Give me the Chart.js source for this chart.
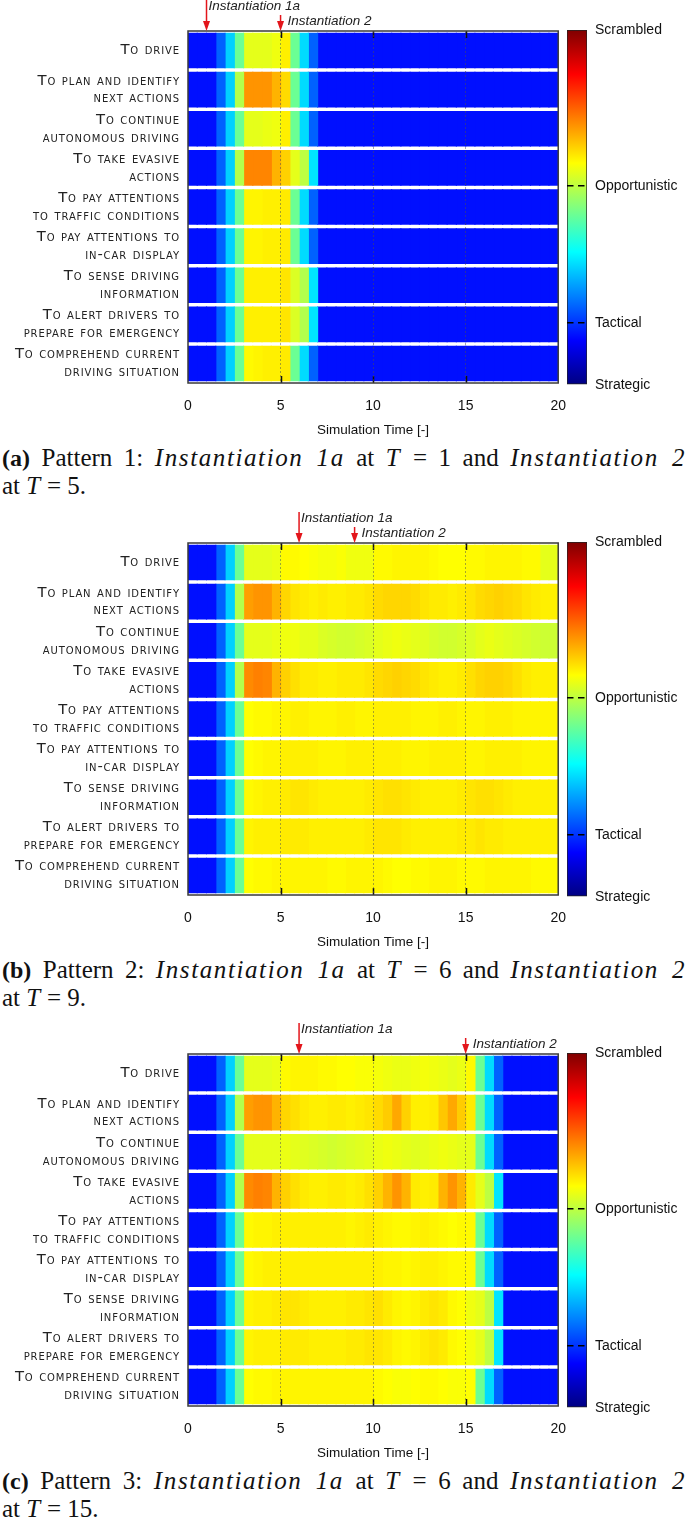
<!DOCTYPE html>
<html><head><meta charset="utf-8">
<script src="https://cdn.jsdelivr.net/npm/chart.js@4.4.1/dist/chart.umd.min.js"></script>
<style>
html,body{margin:0;padding:0;background:#fff;width:685px;height:1524px;overflow:hidden;}
.panel{position:absolute;left:0;width:685px;height:510px;}
.hm{position:absolute;left:0;top:0;width:581px;height:440px;}
.cb{position:absolute;left:540px;top:0;width:145px;height:440px;}
.cap{position:absolute;left:2px;top:444px;font-family:"Liberation Serif",serif;font-size:25px;line-height:27px;color:#111;}
.cap .l1{width:684px;white-space:nowrap;text-align:justify;text-align-last:justify;}
.cap .l2{white-space:nowrap;}
.cap i{letter-spacing:1.6px;}
.cap .l2 i{letter-spacing:0.5px;}
.cap b{font-size:24px;}
</style></head><body>
<div class="panel" style="top:0px">
  <div class="cb"><canvas id="cbA"></canvas></div>
  <div class="hm"><canvas id="hmA"></canvas></div>
  <div class="cap"><div class="l1"><b>(a)</b> Pattern 1: <i>Instantiation 1a</i> at <i>T</i> = 1 and <i>Instantiation 2</i></div><div class="l2">at <i>T</i> = 5.</div></div>
</div>
<div class="panel" style="top:512px">
  <div class="cb"><canvas id="cbB"></canvas></div>
  <div class="hm"><canvas id="hmB"></canvas></div>
  <div class="cap"><div class="l1"><b>(b)</b> Pattern 2: <i>Instantiation 1a</i> at <i>T</i> = 6 and <i>Instantiation 2</i></div><div class="l2">at <i>T</i> = 9.</div></div>
</div>
<div class="panel" style="top:1023px">
  <div class="cb"><canvas id="cbC"></canvas></div>
  <div class="hm"><canvas id="hmC"></canvas></div>
  <div class="cap"><div class="l1"><b>(c)</b> Pattern 3: <i>Instantiation 1a</i> at <i>T</i> = 6 and <i>Instantiation 2</i></div><div class="l2">at <i>T</i> = 15.</div></div>
</div>
<script>
// ---------------- DATA ----------------
const rowLabels = [
  ["To drive"],
  ["To plan and identify", "next actions"],
  ["To continue", "autonomous driving"],
  ["To take evasive", "actions"],
  ["To pay attentions", "to traffic conditions"],
  ["To pay attentions to", "in-car display"],
  ["To sense driving", "information"],
  ["To alert drivers to", "prepare for emergency"],
  ["To comprehend current", "driving situation"]
];
const binWidth = 0.5;
const timeBins = [0,0.5,1,1.5,2,2.5,3,3.5,4,4.5, 5,5.5,6,6.5,7,7.5,8,8.5,9,9.5,
                  10,10.5,11,11.5,12,12.5,13,13.5,14,14.5, 15,15.5,16,16.5,17,17.5,18,18.5,19,19.5];
const xTicks = [0, 5, 10, 15, 20];
const axisTitle = "Simulation Time [-]";
const colorbarLevels = [0, 0.175, 0.56, 1];
const colorbarLabels = ["Strategic", "Tactical", "Opportunistic", "Scrambled"];
const instantNames = ["Instantiation 1a", "Instantiation 2"];
const instantA = [1, 5];
const instantB = [6, 9];
const instantC = [6, 15];

// control-mode level per row (0 = Strategic ... 1 = Scrambled), 40 bins of 0.5
const patternA = [
  [0.14,0.14,0.14,0.22,0.33,0.48,0.60,0.60,0.60,0.61, 0.64,0.48,0.34,0.22,0.14,0.14,0.14,0.14,0.14,0.14,
   0.14,0.14,0.14,0.14,0.14,0.14,0.14,0.14,0.14,0.14, 0.14,0.14,0.14,0.14,0.14,0.14,0.14,0.14,0.14,0.14],
  [0.14,0.14,0.14,0.22,0.33,0.55,0.73,0.73,0.73,0.70, 0.66,0.48,0.34,0.22,0.14,0.14,0.14,0.14,0.14,0.14,
   0.14,0.14,0.14,0.14,0.14,0.14,0.14,0.14,0.14,0.14, 0.14,0.14,0.14,0.14,0.14,0.14,0.14,0.14,0.14,0.14],
  [0.14,0.14,0.14,0.22,0.33,0.48,0.60,0.60,0.605,0.61, 0.64,0.48,0.34,0.22,0.14,0.14,0.14,0.14,0.14,0.14,
   0.14,0.14,0.14,0.14,0.14,0.14,0.14,0.14,0.14,0.14, 0.14,0.14,0.14,0.14,0.14,0.14,0.14,0.14,0.14,0.14],
  [0.14,0.14,0.14,0.22,0.33,0.55,0.745,0.745,0.745,0.70, 0.67,0.60,0.56,0.35,0.14,0.14,0.14,0.14,0.14,0.14,
   0.14,0.14,0.14,0.14,0.14,0.14,0.14,0.14,0.14,0.14, 0.14,0.14,0.14,0.14,0.14,0.14,0.14,0.14,0.14,0.14],
  [0.14,0.14,0.14,0.22,0.33,0.48,0.635,0.635,0.64,0.64, 0.645,0.48,0.34,0.22,0.14,0.14,0.14,0.14,0.14,0.14,
   0.14,0.14,0.14,0.14,0.14,0.14,0.14,0.14,0.14,0.14, 0.14,0.14,0.14,0.14,0.14,0.14,0.14,0.14,0.14,0.14],
  [0.14,0.14,0.14,0.22,0.33,0.48,0.635,0.635,0.64,0.64, 0.645,0.48,0.34,0.22,0.14,0.14,0.14,0.14,0.14,0.14,
   0.14,0.14,0.14,0.14,0.14,0.14,0.14,0.14,0.14,0.14, 0.14,0.14,0.14,0.14,0.14,0.14,0.14,0.14,0.14,0.14],
  [0.14,0.14,0.14,0.22,0.33,0.48,0.64,0.64,0.64,0.64, 0.65,0.59,0.55,0.35,0.14,0.14,0.14,0.14,0.14,0.14,
   0.14,0.14,0.14,0.14,0.14,0.14,0.14,0.14,0.14,0.14, 0.14,0.14,0.14,0.14,0.14,0.14,0.14,0.14,0.14,0.14],
  [0.14,0.14,0.14,0.22,0.33,0.48,0.64,0.64,0.64,0.64, 0.65,0.59,0.55,0.35,0.14,0.14,0.14,0.14,0.14,0.14,
   0.14,0.14,0.14,0.14,0.14,0.14,0.14,0.14,0.14,0.14, 0.14,0.14,0.14,0.14,0.14,0.14,0.14,0.14,0.14,0.14],
  [0.14,0.14,0.14,0.22,0.33,0.48,0.63,0.635,0.64,0.64, 0.645,0.48,0.34,0.22,0.14,0.14,0.14,0.14,0.14,0.14,
   0.14,0.14,0.14,0.14,0.14,0.14,0.14,0.14,0.14,0.14, 0.14,0.14,0.14,0.14,0.14,0.14,0.14,0.14,0.14,0.14]
];

const patternB = [
  [0.14,0.14,0.14,0.22,0.33,0.48,0.60,0.60,0.60,0.605, 0.63,0.63,0.625,0.62,0.615,0.615,0.62,0.61,0.61,0.61,
   0.63,0.63,0.635,0.635,0.635,0.635,0.63,0.625,0.625,0.625, 0.63,0.63,0.635,0.635,0.635,0.635,0.63,0.63,0.60,0.60],
  [0.14,0.14,0.14,0.22,0.33,0.55,0.72,0.73,0.73,0.70, 0.665,0.65,0.645,0.64,0.645,0.64,0.64,0.645,0.645,0.65,
   0.66,0.665,0.665,0.665,0.66,0.65,0.645,0.645,0.64,0.645, 0.65,0.66,0.665,0.67,0.665,0.66,0.65,0.645,0.64,0.64],
  [0.14,0.14,0.14,0.22,0.33,0.48,0.60,0.60,0.60,0.605, 0.61,0.61,0.60,0.60,0.59,0.585,0.58,0.58,0.585,0.59,
   0.60,0.605,0.61,0.605,0.60,0.595,0.585,0.58,0.58,0.585, 0.59,0.60,0.605,0.60,0.595,0.59,0.585,0.58,0.575,0.575],
  [0.14,0.14,0.14,0.22,0.33,0.55,0.74,0.75,0.745,0.70, 0.67,0.655,0.645,0.645,0.64,0.64,0.645,0.645,0.645,0.65,
   0.66,0.665,0.67,0.665,0.66,0.65,0.645,0.64,0.64,0.645, 0.655,0.665,0.67,0.67,0.665,0.655,0.645,0.64,0.64,0.64],
  [0.14,0.14,0.14,0.22,0.33,0.48,0.625,0.63,0.63,0.635, 0.635,0.64,0.64,0.635,0.635,0.635,0.64,0.64,0.635,0.635,
   0.64,0.64,0.64,0.64,0.635,0.635,0.635,0.64,0.64,0.635, 0.635,0.635,0.64,0.64,0.64,0.635,0.635,0.635,0.635,0.635],
  [0.14,0.14,0.14,0.22,0.33,0.48,0.625,0.63,0.635,0.635, 0.64,0.64,0.64,0.64,0.635,0.635,0.635,0.64,0.64,0.64,
   0.64,0.64,0.64,0.635,0.635,0.635,0.64,0.64,0.64,0.64, 0.635,0.635,0.64,0.64,0.64,0.64,0.635,0.635,0.635,0.635],
  [0.14,0.14,0.14,0.22,0.33,0.48,0.63,0.635,0.64,0.64, 0.645,0.65,0.65,0.645,0.64,0.64,0.64,0.64,0.64,0.645,
   0.65,0.655,0.655,0.65,0.645,0.64,0.64,0.64,0.64,0.645, 0.65,0.655,0.655,0.65,0.645,0.64,0.64,0.64,0.64,0.64],
  [0.14,0.14,0.14,0.22,0.33,0.48,0.635,0.64,0.64,0.64, 0.645,0.645,0.645,0.64,0.64,0.64,0.64,0.64,0.64,0.645,
   0.65,0.65,0.65,0.645,0.64,0.64,0.64,0.64,0.64,0.645, 0.645,0.65,0.645,0.645,0.64,0.64,0.64,0.64,0.64,0.64],
  [0.14,0.14,0.14,0.22,0.33,0.48,0.625,0.63,0.63,0.635, 0.635,0.635,0.635,0.635,0.635,0.63,0.63,0.635,0.635,0.635,
   0.635,0.63,0.625,0.625,0.63,0.63,0.635,0.635,0.635,0.63, 0.63,0.63,0.635,0.635,0.635,0.635,0.635,0.63,0.63,0.63]
];

const patternC = [
  [0.14,0.14,0.14,0.22,0.33,0.48,0.60,0.60,0.60,0.605, 0.63,0.635,0.635,0.635,0.63,0.63,0.625,0.625,0.62,0.62,
   0.615,0.61,0.605,0.605,0.61,0.615,0.61,0.605,0.60,0.605, 0.63,0.48,0.34,0.22,0.14,0.14,0.14,0.14,0.14,0.14],
  [0.14,0.14,0.14,0.22,0.33,0.55,0.72,0.73,0.73,0.70, 0.665,0.655,0.645,0.64,0.64,0.645,0.645,0.64,0.645,0.65,
   0.66,0.675,0.71,0.67,0.64,0.64,0.645,0.68,0.71,0.675, 0.645,0.48,0.34,0.22,0.14,0.14,0.14,0.14,0.14,0.14],
  [0.14,0.14,0.14,0.22,0.33,0.48,0.60,0.60,0.60,0.60, 0.605,0.60,0.595,0.59,0.585,0.58,0.585,0.59,0.595,0.60,
   0.605,0.61,0.605,0.60,0.595,0.60,0.605,0.61,0.605,0.60, 0.60,0.48,0.34,0.22,0.14,0.14,0.14,0.14,0.14,0.14],
  [0.14,0.14,0.14,0.22,0.33,0.55,0.74,0.75,0.745,0.70, 0.67,0.655,0.645,0.64,0.64,0.645,0.645,0.64,0.645,0.655,
   0.67,0.70,0.73,0.70,0.645,0.64,0.645,0.70,0.73,0.70, 0.645,0.60,0.56,0.35,0.14,0.14,0.14,0.14,0.14,0.14],
  [0.14,0.14,0.14,0.22,0.33,0.48,0.63,0.635,0.635,0.64, 0.64,0.64,0.64,0.64,0.64,0.64,0.64,0.635,0.64,0.645,
   0.64,0.635,0.63,0.63,0.635,0.64,0.635,0.63,0.625,0.63, 0.63,0.48,0.34,0.22,0.14,0.14,0.14,0.14,0.14,0.14],
  [0.14,0.14,0.14,0.22,0.33,0.48,0.63,0.635,0.64,0.64, 0.64,0.64,0.64,0.64,0.64,0.64,0.64,0.64,0.64,0.64,
   0.64,0.635,0.635,0.63,0.635,0.64,0.64,0.635,0.63,0.63, 0.63,0.48,0.34,0.22,0.14,0.14,0.14,0.14,0.14,0.14],
  [0.14,0.14,0.14,0.22,0.33,0.48,0.635,0.64,0.64,0.645, 0.65,0.65,0.645,0.64,0.64,0.64,0.64,0.645,0.645,0.65,
   0.655,0.645,0.635,0.63,0.635,0.645,0.65,0.645,0.63,0.625, 0.61,0.60,0.56,0.35,0.14,0.14,0.14,0.14,0.14,0.14],
  [0.14,0.14,0.14,0.22,0.33,0.48,0.635,0.64,0.64,0.64, 0.645,0.645,0.645,0.64,0.64,0.64,0.64,0.645,0.645,0.65,
   0.65,0.645,0.635,0.63,0.635,0.645,0.65,0.645,0.63,0.625, 0.615,0.60,0.56,0.35,0.14,0.14,0.14,0.14,0.14,0.14],
  [0.14,0.14,0.14,0.22,0.33,0.48,0.625,0.63,0.63,0.635, 0.635,0.635,0.635,0.635,0.635,0.635,0.635,0.635,0.635,0.635,
   0.63,0.625,0.62,0.62,0.625,0.63,0.63,0.625,0.62,0.62, 0.625,0.48,0.34,0.22,0.14,0.14,0.14,0.14,0.14,0.14]
];

// ---------------- STYLE / RENDER ----------------
function jet(v) {
  const c = x => Math.max(0, Math.min(1, x));
  const r = c(1.5 - Math.abs(4 * v - 3));
  const g = c(1.5 - Math.abs(4 * v - 2));
  const b = c(1.5 - Math.abs(4 * v - 1));
  return `rgb(${Math.round(r * 255)},${Math.round(g * 255)},${Math.round(b * 255)})`;
}

const sansFont = "'Liberation Sans', Arial, sans-serif";

// wider tracking for the small-caps row labels only (drawn before datasets)
const labelSpacing = {
  id: 'labelSpacing',
  beforeDraw(chart) { chart.ctx.letterSpacing = '0.9px'; },
  beforeDatasetsDraw(chart) { chart.ctx.letterSpacing = '0px'; }
};

const heatDeco = {
  id: 'heatDeco',
  afterDatasetsDraw(chart, args, opts) {
    const { ctx, chartArea: a, scales: { x } } = chart;
    ctx.save();
    ctx.letterSpacing = '0px';
    // inner tick marks
    ctx.strokeStyle = '#111';
    ctx.lineWidth = 1.5;
    xTicks.slice(1, -1).forEach(t => {
      const px = Math.round(x.getPixelForValue(t)) + 0.5;
      ctx.beginPath();
      ctx.moveTo(px, a.top); ctx.lineTo(px, a.top + 7);
      ctx.moveTo(px, a.bottom); ctx.lineTo(px, a.bottom - 7);
      ctx.stroke();
    });
    // frame
    ctx.strokeStyle = '#3a3a3a';
    ctx.lineWidth = 1.5;
    ctx.strokeRect(a.left, a.top, a.width, a.height);
    // instantiation arrows
    const tops = [31, 16], labY = [25, 10], labDx = [2, 7];
    opts.times.forEach((t, i) => {
      const px = x.getPixelForValue(t);
      ctx.strokeStyle = '#e3151b';
      ctx.fillStyle = '#e3151b';
      ctx.lineWidth = 1.5;
      ctx.beginPath();
      ctx.moveTo(px, a.top - tops[i]);
      ctx.lineTo(px, a.top - 8);
      ctx.stroke();
      ctx.beginPath();
      ctx.moveTo(px, a.top);
      ctx.lineTo(px - 3.5, a.top - 10);
      ctx.lineTo(px + 3.5, a.top - 10);
      ctx.closePath();
      ctx.fill();
      ctx.fillStyle = '#222';
      ctx.font = "italic 13.5px " + sansFont;
      ctx.textBaseline = 'middle';
      ctx.textAlign = 'left';
      ctx.fillText(instantNames[i], px + labDx[i], a.top - labY[i]);
    });
    ctx.restore();
  }
};

function makeHeatmap(id, pattern, times) {
  const datasets = timeBins.map((t0, c) => ({
    data: rowLabels.map(() => [t0, t0 + binWidth]),
    backgroundColor: pattern.map(row => jet(row[c])),
    borderWidth: 0,
    inflateAmount: 0.6,
    grouped: false,
    barPercentage: 1,
    categoryPercentage: 0.88
  }));
  new Chart(document.getElementById(id), {
    type: 'bar',
    data: { labels: rowLabels, datasets },
    plugins: [labelSpacing, heatDeco],
    options: {
      indexAxis: 'y',
      responsive: true,
      maintainAspectRatio: false,
      animation: false,
      layout: { padding: { top: 31, right: 0, left: 0, bottom: 0 } },
      plugins: { legend: { display: false }, tooltip: { enabled: false }, heatDeco: { times } },
      scales: {
        x: {
          type: 'linear', min: 0, max: 20,
          afterBuildTicks: s => { s.ticks = xTicks.map(v => ({ value: v })); },
          afterFit: s => { s.height = 57; },
          grid: {
            z: 1, drawTicks: false, lineWidth: 1,
            color: c => (c.tick && (c.tick.value === 0 || c.tick.value === 20)) ? 'rgba(0,0,0,0)' : 'rgba(80,80,80,0.5)'
          },
          border: { display: false, dash: [2, 2] },
          ticks: { z: 1, color: '#111', padding: 15, font: { family: sansFont, size: 14 } },
          title: { display: true, text: axisTitle, color: '#111', padding: { top: 0, bottom: 2 }, font: { family: sansFont, size: 13.5 } }
        },
        y: {
          type: 'category',
          afterFit: s => { s.width = 188; },
          grid: { display: false, drawTicks: false },
          border: { display: false },
          ticks: { color: '#222', padding: 8, font: { family: "'DejaVu Sans', sans-serif", size: 14.8, weight: 'small-caps', lineHeight: 1.2 } }
        }
      }
    }
  });
}

function makeColorbar(id) {
  new Chart(document.getElementById(id), {
    type: 'bar',
    data: {
      labels: ['bar'],
      datasets: [{
        data: [[colorbarLevels[0], colorbarLevels[colorbarLevels.length - 1]]],
        backgroundColor: ctx => {
          const a = ctx.chart.chartArea;
          if (!a) return 'blue';
          const g = ctx.chart.ctx.createLinearGradient(0, a.bottom, 0, a.top);
          for (let i = 0; i <= 32; i++) g.addColorStop(i / 32, jet(i / 32));
          return g;
        },
        borderColor: '#222', borderWidth: 1, borderSkipped: false,
        barPercentage: 1, categoryPercentage: 1
      }]
    },
    options: {
      responsive: true, maintainAspectRatio: false, animation: false,
      layout: { padding: { top: 30, bottom: 55, left: 27, right: 0 } },
      plugins: { legend: { display: false }, tooltip: { enabled: false } },
      scales: {
        x: { display: false },
        y: {
          type: 'linear', position: 'right', min: 0, max: 1,
          afterBuildTicks: s => { s.ticks = colorbarLevels.map(v => ({ value: v })); },
          afterFit: s => { s.width = 98; },
          grid: {
            z: 1, drawTicks: false, lineWidth: 1.5,
            color: c => (c.tick && (c.tick.value === colorbarLevels[1] || c.tick.value === colorbarLevels[2])) ? '#000' : 'rgba(0,0,0,0)'
          },
          border: { display: false, dash: [6.5, 4.5] },
          ticks: {
            padding: 8, color: '#111', font: { family: sansFont, size: 14 },
            callback: v => colorbarLabels[colorbarLevels.indexOf(v)]
          }
        }
      }
    }
  });
}

makeHeatmap('hmA', patternA, instantA);
makeHeatmap('hmB', patternB, instantB);
makeHeatmap('hmC', patternC, instantC);
makeColorbar('cbA');
makeColorbar('cbB');
makeColorbar('cbC');
</script>
</body></html>
